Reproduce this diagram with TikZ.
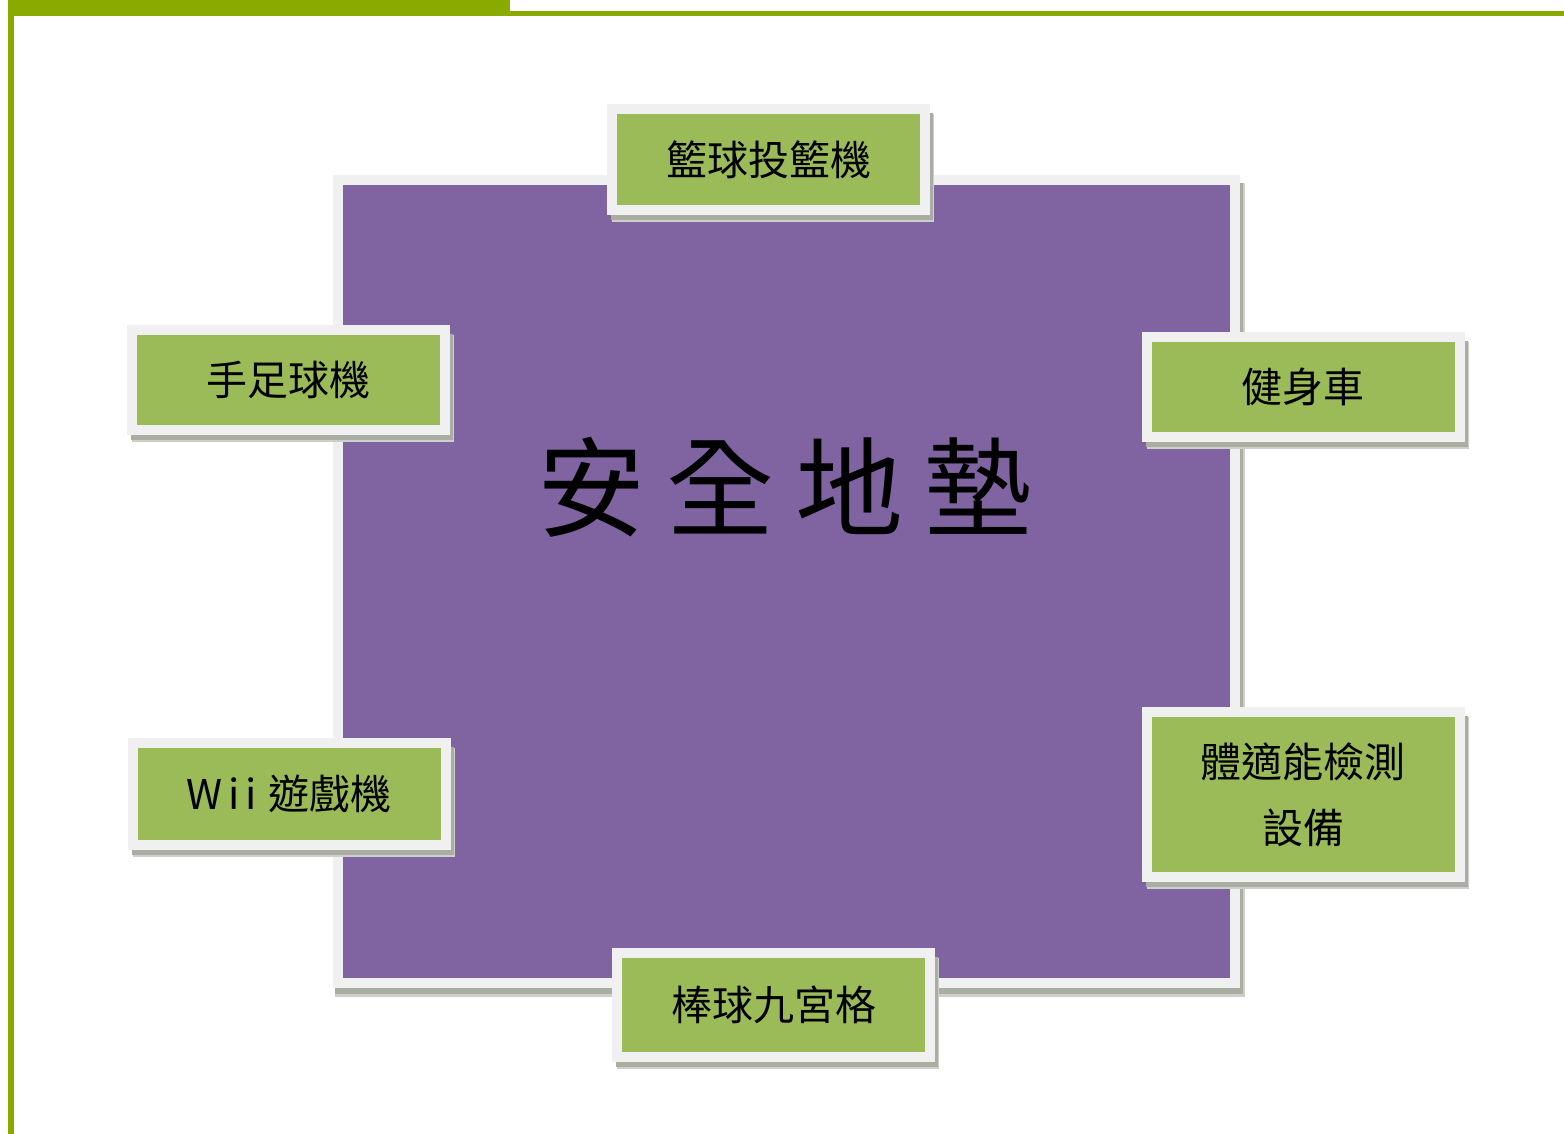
\documentclass[tikz,border=0pt]{standalone}
\usepackage{fontspec}
\newfontfamily\cjk{Noto Sans CJK TC}
\usetikzlibrary{calc}
\definecolor{frameg}{RGB}{138,170,0}
\definecolor{padpurple}{RGB}{128,100,162}
\definecolor{boxgreen}{RGB}{155,187,89}
\definecolor{rimgray}{RGB}{240,240,240}
\definecolor{shadowgray}{RGB}{170,174,162}
\definecolor{shadowsoft}{RGB}{205,208,200}
\begin{document}
\begin{tikzpicture}[x=1pt,y=-1pt,
  itembox/.style={draw=rimgray, line width=10pt, fill=boxgreen, minimum width=313pt,
    minimum height=100pt, inner sep=0pt, outer sep=0pt, text=black, align=center,
    font=\cjk\fontsize{41}{66}\selectfont},
  padbox/.style={draw=rimgray, line width=10pt, fill=padpurple, inner sep=0pt, outer sep=0pt,
    minimum width=897pt, minimum height=803pt},
  titletext/.style={font=\cjk\fontsize{108}{120}\selectfont, text=black, inner sep=0pt}]
\useasboundingbox (0,0) rectangle (1564,1134);
\fill[white] (0,0) rectangle (1564,1134);
% green page frame
\fill[frameg] (8,0) rectangle (510,16);
\fill[frameg] (8,11) rectangle (1564,16);
\fill[frameg] (8,0) rectangle (14,1134);

% central mat
\node[padbox] (pad) at (786.5,581.5) {};
\fill[shadowsoft] ($(pad.north east)+(5,3)$) rectangle ($(pad.south east)+(10,14)$);
\fill[shadowsoft] ($(pad.south west)+(-3,5)$) rectangle ($(pad.south east)+(10,14)$);
\fill[shadowgray] ($(pad.north east)+(5,3)$) rectangle ($(pad.south east)+(8,11)$);
\fill[shadowgray] ($(pad.south west)+(-3,5)$) rectangle ($(pad.south east)+(8,11)$);
\node[padbox] at (pad.center) {};
\node[titletext] (title) at (785,487) {安\hspace{21pt}全\hspace{21pt}地\hspace{21pt}墊};

% item boxes: positions
\coordinate (cTop) at (768.5,159.5);
\coordinate (cL1) at (288.5,380);
\coordinate (cR1) at (1303,387);
\coordinate (cL2) at (289,794);
\coordinate (cR2) at (1303,794.5);
\coordinate (cBot) at (773.5,1005);

\foreach \c/\n/\h in {cTop/bTop/101, cL1/bL1/100, cR1/bR1/100, cL2/bL2/102, cR2/bR2/165, cBot/bBot/104}{
  \node[itembox, draw=none, fill=none, minimum height=\h pt] (\n) at (\c) {};
  \fill[shadowsoft] ($(\n.north west)+(0,5)$) rectangle ($(\n.south east)+(9,12)$);
  \fill[shadowgray] ($(\n.north west)+(-1,4)$) rectangle ($(\n.south east)+(8,10)$);
}
\node[itembox, minimum height=101pt] (top) at (cTop) {籃球投籃機};
\node[itembox] (left1) at (cL1) {手足球機};
\node[itembox] (right1) at (cR1) {健身車};
\node[itembox, minimum height=102pt] (left2) at (cL2) {W\hspace{6pt}i\hspace{6pt}i\hspace{12pt}遊戲機};
\node[itembox, minimum height=165pt] (right2) at (cR2) {體適能檢測\\設備};
\node[itembox, minimum height=104pt] (bottom) at (cBot) {棒球九宮格};
\end{tikzpicture}
\end{document}
